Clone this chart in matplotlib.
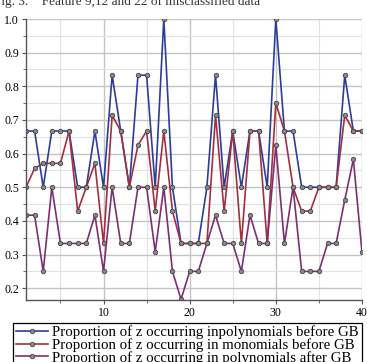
import matplotlib
matplotlib.use("Agg")
import matplotlib.pyplot as plt
import numpy as np

plt.rcParams['font.family'] = ['Liberation Serif', 'DejaVu Serif']

# feature index 1..40
x = np.arange(1, 41)

# proportion of z in polynomials before GB
poly_before = [0.667, 0.667, 0.5, 0.667, 0.667, 0.667, 0.5, 0.5, 0.667, 0.5,
               0.833, 0.667, 0.5, 0.833, 0.833, 0.5, 1.0, 0.5, 0.333, 0.333,
               0.333, 0.5, 0.833, 0.5, 0.667, 0.5, 0.667, 0.667, 0.5, 1.0,
               0.667, 0.667, 0.5, 0.5, 0.5, 0.5, 0.5, 0.833, 0.667, 0.667]
# proportion of z in monomials before GB
mono_before = [0.5, 0.556, 0.571, 0.571, 0.571, 0.667, 0.429, 0.5, 0.571, 0.333,
               0.714, 0.667, 0.5, 0.625, 0.667, 0.429, 0.667, 0.429, 0.333, 0.333,
               0.333, 0.333, 0.714, 0.429, 0.667, 0.333, 0.667, 0.667, 0.333, 0.75,
               0.667, 0.5, 0.429, 0.429, 0.5, 0.5, 0.5, 0.714, 0.667, 0.667]
# proportion of z in polynomials after GB
poly_after = [0.417, 0.417, 0.25, 0.5, 0.333, 0.333, 0.333, 0.333, 0.417, 0.25,
              0.5, 0.333, 0.333, 0.5, 0.5, 0.308, 0.5, 0.25, 0.167, 0.25,
              0.25, 0.333, 0.417, 0.333, 0.333, 0.25, 0.417, 0.333, 0.333, 0.625,
              0.333, 0.5, 0.25, 0.25, 0.25, 0.333, 0.333, 0.462, 0.583, 0.308]

labels = ['Proportion of z occurring inpolynomials before GB',
          'Proportion of z occurring in monomials before GB',
          'Proportion of z occurring in polynomials after GB']
colors = ['#2e3c9c', '#a3303e', '#7d2f72']

fig = plt.figure(figsize=(3.67, 3.62), dpi=100)
ax = fig.add_axes([0.0708, 0.1713, 0.9155, 0.7762])

for ys, lab, c in zip([poly_before, mono_before, poly_after], labels, colors):
    ax.plot(x, ys, color=c, lw=1.2, marker='o', ms=3.2,
            mfc='#8a8a8a', mec='#444444', mew=0.6, label=lab)

ax.set_xlim(1, 40)
ax.set_ylim(0.165, 1.0)
ax.set_xticks([10, 20, 30, 40])
ax.set_xticks([5, 15, 25, 35], minor=True)
ax.set_yticks([0.2, 0.3, 0.4, 0.5, 0.6, 0.7, 0.8, 0.9, 1.0])
ax.set_yticks(np.arange(0.25, 1.0, 0.1), minor=True)
ax.grid(True, which='major', color='#c4c4c4', lw=1.0)
ax.grid(True, which='minor', color='#e2e2e2', lw=0.8)
ax.set_axisbelow(True)
for s in ['top', 'right']:
    ax.spines[s].set_visible(False)
for s in ['left', 'bottom']:
    ax.spines[s].set_color('#555555')
    ax.spines[s].set_linewidth(1.0)
ax.tick_params(which='both', direction='out', color='#555555', labelsize=8.5, pad=2)
ax.tick_params(which='major', length=3)
ax.tick_params(which='minor', length=2)

leg = ax.legend(loc='upper left', bbox_to_anchor=(0.035, 0.1086),
                bbox_transform=fig.transFigure, borderaxespad=0, fontsize=10.7,
                frameon=True, fancybox=False, framealpha=1, edgecolor='black',
                handlelength=2.15, handletextpad=0.3, labelspacing=-0.08,
                borderpad=0.2)
leg.get_frame().set_linewidth(0.9)

fig.text(-0.015, 1 - 4.5 / 362, 'Fig. 3.    Feature 9,12 and 22 of misclassified data',
         fontsize=9.5, va='baseline', ha='left', color='#333333')

fig.savefig('out.png', dpi=100)
